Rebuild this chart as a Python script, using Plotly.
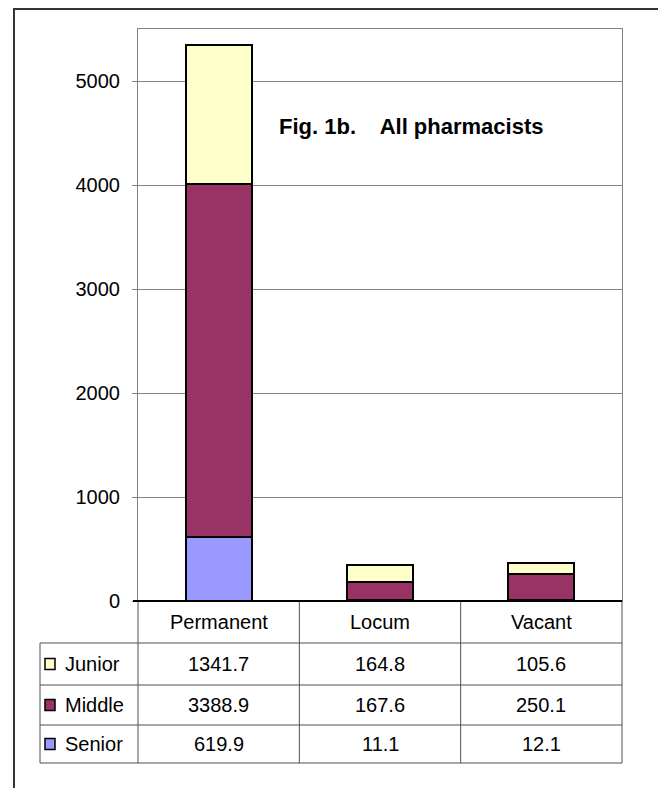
import plotly.graph_objects as go

categories = ["Permanent", "Locum", "Vacant"]
series_names = ["Senior", "Middle", "Junior"]
senior = [619.9, 11.1, 12.1]
middle = [3388.9, 167.6, 250.1]
junior = [1341.7, 164.8, 105.6]
colors = {"Senior": "#9999FF", "Middle": "#993366", "Junior": "#FFFFCC"}
y_ticks = [0, 1000, 2000, 3000, 4000, 5000]
title_text = "Fig. 1b.    All pharmacists"

W, H = 658, 788
L, R, T, B = 138, 622, 29, 601   # plot area in pixels
FONT = "Arial, Liberation Sans, sans-serif"


def px_x(px):
    return (px - L) / (R - L)


def px_y(py):
    return (B - py) / (B - T)


values = {"Senior": senior, "Middle": middle, "Junior": junior}

fig = go.Figure()
for name in series_names:
    fig.add_trace(go.Bar(x=categories, y=values[name], name=name,
                         marker=dict(color=colors[name],
                                     line=dict(color="black", width=2)),
                         width=0.41, showlegend=False, hoverinfo="skip"))

shapes = []
# outer frame (cut off at right and bottom like the source)
shapes.append(dict(type="rect", xref="paper", yref="paper",
                   x0=px_x(14), y0=px_y(9), x1=px_x(W + 20), y1=px_y(H + 20),
                   line=dict(color="#333333", width=2)))

# data table grid
line_col = "#505050"
for yy in [643, 685, 725, 763]:
    shapes.append(dict(type="line", xref="paper", yref="paper",
                       x0=px_x(40), x1=px_x(R), y0=px_y(yy), y1=px_y(yy),
                       line=dict(color=line_col, width=1)))
shapes.append(dict(type="line", xref="paper", yref="paper",
                   x0=px_x(40), x1=px_x(40), y0=px_y(643), y1=px_y(763),
                   line=dict(color=line_col, width=1)))
for k in range(len(categories) + 1):
    xx = k / len(categories)
    shapes.append(dict(type="line", xref="paper", yref="paper",
                       x0=xx, x1=xx, y0=0, y1=px_y(763),
                       line=dict(color=line_col, width=1)))
# zero axis line
shapes.append(dict(type="line", xref="paper", yref="paper",
                   x0=px_x(133), x1=1, y0=0, y1=0,
                   line=dict(color="black", width=2)))

annotations = []
for c in categories:
    annotations.append(dict(x=c, xref="x", y=px_y(622), yref="paper",
                            text=c, showarrow=False,
                            xanchor="center", yanchor="middle",
                            font=dict(family=FONT, size=20, color="black")))

row_centers = {"Junior": 664, "Middle": 705, "Senior": 744}
for name in ["Junior", "Middle", "Senior"]:
    yc = px_y(row_centers[name])
    shapes.append(dict(type="rect", xref="paper", yref="paper",
                       x0=px_x(45), x1=px_x(55), y0=yc + 5.5 / 572, y1=yc - 5.5 / 572,
                       fillcolor=colors[name], line=dict(color="black", width=1.5)))
    annotations.append(dict(x=px_x(63), xref="paper", y=yc, yref="paper",
                            text=name, showarrow=False,
                            xanchor="left", yanchor="middle",
                            font=dict(family=FONT, size=20, color="black")))
    for c, v in zip(categories, values[name]):
        annotations.append(dict(x=c, xref="x", y=yc, yref="paper",
                                text=f"{v:.1f}", showarrow=False,
                                xanchor="center", yanchor="middle",
                                font=dict(family=FONT, size=20, color="black")))

annotations.append(dict(x=px_x(411), xref="paper", y=px_y(126), yref="paper",
                        text=f"<b>{title_text}</b>", showarrow=False,
                        xanchor="center", yanchor="middle",
                        font=dict(family=FONT, size=22, color="black")))

fig.update_layout(
    width=W, height=H, barmode="stack", hovermode=False,
    margin=dict(l=L, r=W - R, t=T, b=H - B),
    paper_bgcolor="white", plot_bgcolor="white",
    font=dict(family=FONT, size=20, color="black"),
    shapes=shapes, annotations=annotations,
    xaxis=dict(showticklabels=False, showgrid=False, zeroline=False,
               showline=True, linecolor="#808080", mirror=True,
               range=[-0.5, 2.5]),
    yaxis=dict(range=[0, 5500], tickvals=y_ticks, showgrid=True,
               gridcolor="#808080", gridwidth=1, zeroline=False,
               showline=True, linecolor="#808080", mirror=True,
               ticks="outside", ticklen=5, tickcolor="#808080",
               ticklabelstandoff=8,
               tickfont=dict(family=FONT, size=20, color="black")),
)

fig.write_html("out.html", config={"displayModeBar": False},
               post_script="document.body.style.margin='0';")
